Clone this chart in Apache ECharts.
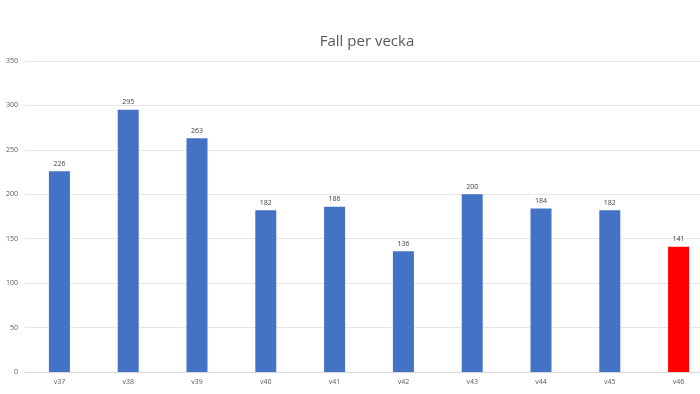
<!DOCTYPE html>
<html><head><meta charset="utf-8">
<script src="https://cdn.jsdelivr.net/npm/echarts@6/dist/echarts.min.js"></script>
<style>html,body{margin:0;padding:0;background:#fff}#c{width:700px;height:394px}</style>
</head><body><div id="c"></div>
<script>
const categories = ['v37','v38','v39','v40','v41','v42','v43','v44','v45','v46'];
const values = [226, 295, 263, 182, 186, 136, 200, 184, 182, 141];
const barColors = ['#4472C4','#4472C4','#4472C4','#4472C4','#4472C4','#4472C4','#4472C4','#4472C4','#4472C4','#FF0000'];
const chart = echarts.init(document.getElementById('c'), null, {renderer:'canvas'});
chart.setOption({
  animation:false,
  backgroundColor:'#fff',
  title:{text:'Fall per vecka', left:362, top:29, textAlign:'center',
    textStyle:{fontFamily:'Open Sans', fontWeight:'normal', fontSize:15, color:'#595959'}},
  grid:{left:25, top:61, bottom:22, right:-13, outerBoundsMode:'none', containLabel:false},
  xAxis:{type:'category', data:categories,
    axisLine:{lineStyle:{color:'#d9d9d9'}}, axisTick:{show:false},
    axisLabel:{color:'#595959', fontSize:7, fontFamily:'Open Sans', margin:6}},
  yAxis:{type:'value', min:0, max:350, interval:50,
    axisLine:{show:false}, axisTick:{show:false},
    splitLine:{lineStyle:{color:'#e6e6e6'}},
    axisLabel:{color:'#595959', fontSize:7, fontFamily:'Open Sans', margin:7}},
  series:[{type:'bar', barWidth:21,
    data: values.map((v,i)=>({value:v, itemStyle:{color:barColors[i]}})),
    label:{show:true, position:'top', distance:4, color:'#404040', fontSize:7, fontFamily:'Open Sans'}}]
});
</script></body></html>
